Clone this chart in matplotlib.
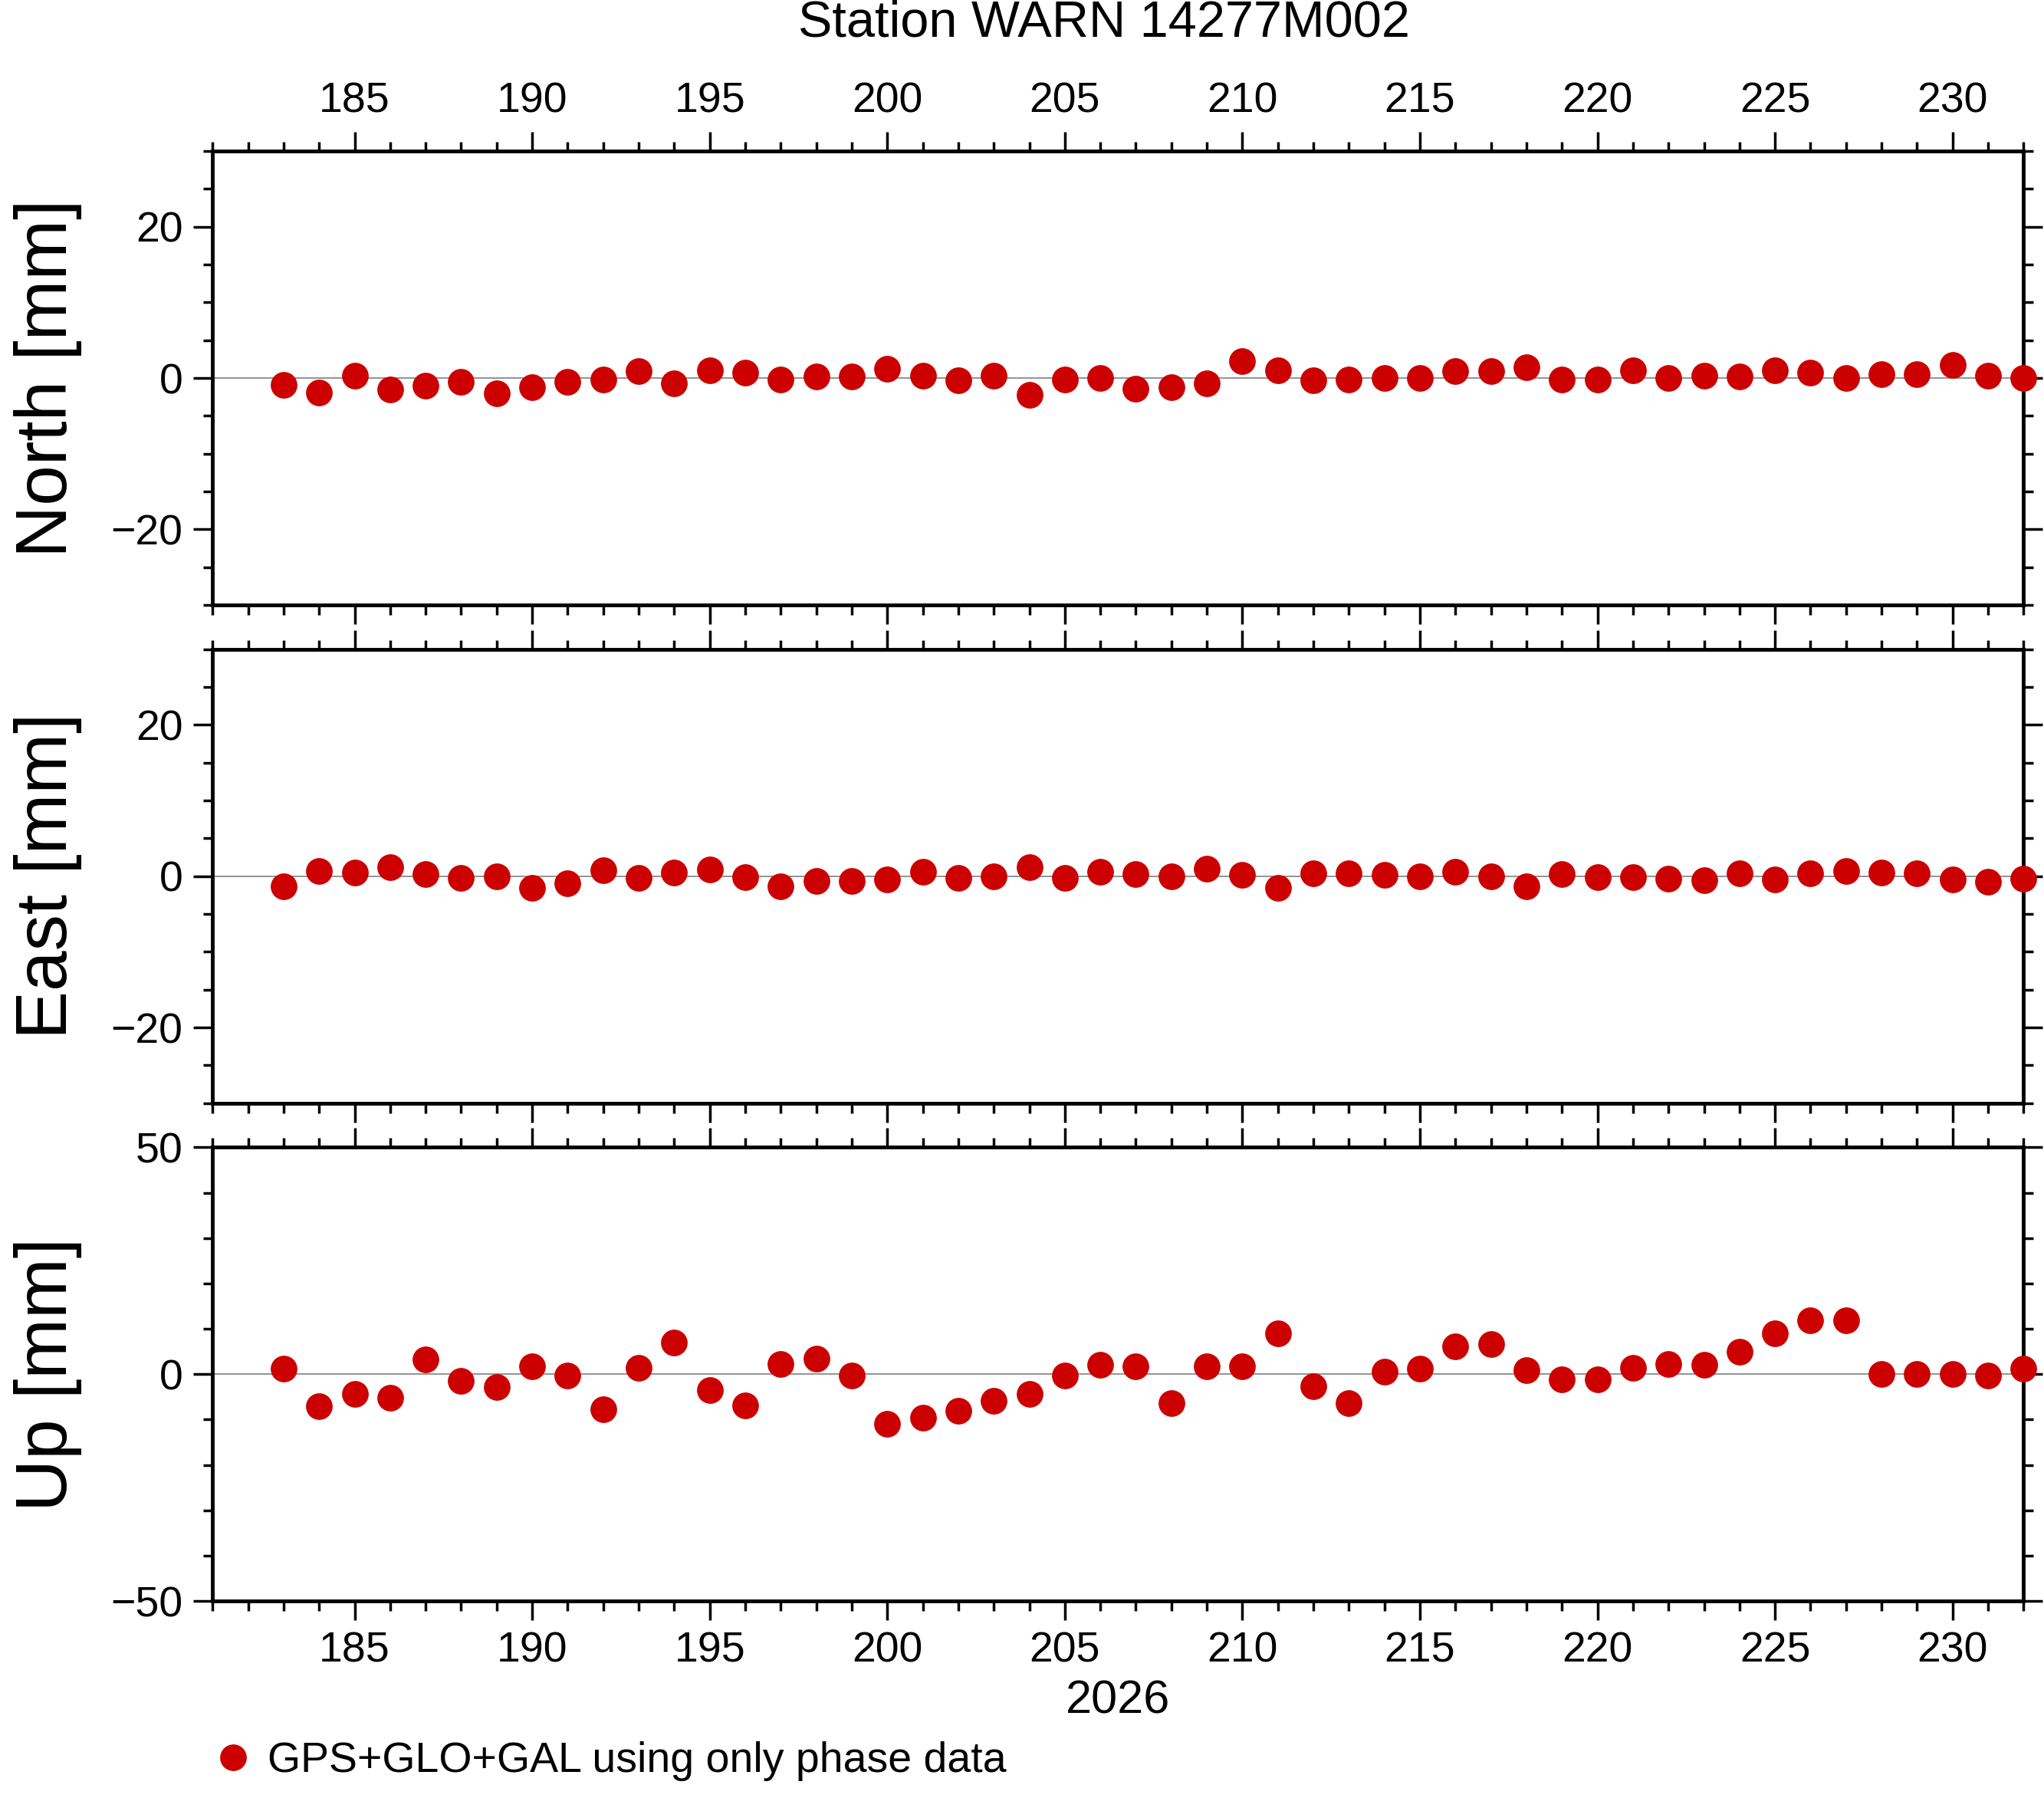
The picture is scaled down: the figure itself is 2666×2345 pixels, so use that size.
import numpy as np
import matplotlib
matplotlib.use('Agg')
from matplotlib import pyplot as plt
from matplotlib.ticker import MultipleLocator
from matplotlib.lines import Line2D

plt.rcParams['font.family'] = ['Liberation Sans', 'DejaVu Sans']

days = np.arange(183, 233)
north = [-0.9, -1.9, 0.3, -1.5, -1.0, -0.5, -2.0, -1.2, -0.5, -0.2,
         0.9, -0.7, 1.0, 0.7, -0.2, 0.2, 0.2, 1.2, 0.3, -0.3,
         0.3, -2.2, -0.2, 0.0, -1.4, -1.2, -0.7, 2.2, 1.0, -0.3,
         -0.2, 0.0, 0.0, 0.9, 0.9, 1.4, -0.2, -0.2, 1.0, 0.0,
         0.3, 0.2, 1.0, 0.7, 0.0, 0.5, 0.5, 1.7, 0.3, 0.0]
east = [-1.3, 0.7, 0.5, 1.2, 0.3, -0.2, 0.0, -1.5, -0.9, 0.8,
        -0.2, 0.5, 0.9, -0.1, -1.3, -0.6, -0.6, -0.4, 0.6, -0.2,
        0.0, 1.2, -0.2, 0.6, 0.3, 0.0, 1.0, 0.2, -1.5, 0.4,
        0.4, 0.2, 0.0, 0.6, 0.0, -1.3, 0.3, -0.1, -0.1, -0.3,
        -0.5, 0.4, -0.4, 0.4, 0.7, 0.5, 0.4, -0.4, -0.7, -0.3]
up = [1.2, -7.0, -4.3, -5.2, 3.2, -1.4, -2.9, 1.7, -0.3, -7.8,
      1.4, 6.9, -3.5, -6.9, 2.3, 3.5, -0.3, -11.0, -9.5, -8.1,
      -5.8, -4.3, -0.3, 2.0, 1.7, -6.4, 1.7, 1.7, 9.0, -2.6,
      -6.4, 0.6, 1.2, 6.1, 6.6, 0.9, -1.2, -1.2, 1.4, 2.3,
      2.0, 4.9, 9.0, 11.8, 11.8, 0.0, 0.0, 0.0, -0.3, 1.2]

panels = [('North [mm]', north, 30, 20, 5),
          ('East [mm]', east, 30, 20, 5),
          ('Up [mm]', up, 50, 50, 10)]
red = '#cc0000'
tick_fs = 40

fig = plt.figure(figsize=(26.66, 23.45), dpi=100)
boxes = [(0.6635, 0.916), (0.3865, 0.6389), (0.1095, 0.3619)]
axes = []
for i, ((label, vals, lim, major, minor), (b, t)) in enumerate(zip(panels, boxes)):
    ax = fig.add_axes([0.104, b, 0.886, t - b])
    ax.axhline(0, color='#808080', lw=1.2, zorder=1)
    ax.plot(days, vals, 'o', color=red, ms=24, zorder=3, clip_on=False)
    ax.set_xlim(181, 232)
    ax.set_ylim(-lim, lim)
    ax.xaxis.set_major_locator(MultipleLocator(5))
    ax.xaxis.set_minor_locator(MultipleLocator(1))
    ax.yaxis.set_major_locator(MultipleLocator(major))
    ax.yaxis.set_minor_locator(MultipleLocator(minor))
    ax.tick_params(which='both', direction='out', top=True, right=True,
                   width=2.5, labelsize=tick_fs, pad=10)
    ax.tick_params(which='major', length=18)
    ax.tick_params(which='minor', length=9)
    ax.tick_params(axis='x', labelbottom=(i == 2), labeltop=(i == 0))
    for s in ax.spines.values():
        s.set_linewidth(3.5)
    ax.set_ylabel(label, fontsize=68)
    ax.yaxis.set_label_coords(-0.072, 0.5)
    axes.append(ax)

fig.text(0.54, 0.987, 'Station WARN 14277M002', fontsize=48,
         ha='center', va='center')
axes[2].set_xlabel('2026', fontsize=44, labelpad=8)

h = Line2D([], [], ls='', marker='o', color=red, ms=24)
fig.legend([h], ['GPS+GLO+GAL using only phase data'], loc='lower left',
           bbox_to_anchor=(0.085, -0.012), frameon=False, fontsize=40,
           handletextpad=0.3, handlelength=1.0)

fig.savefig('out.png', dpi=100)
